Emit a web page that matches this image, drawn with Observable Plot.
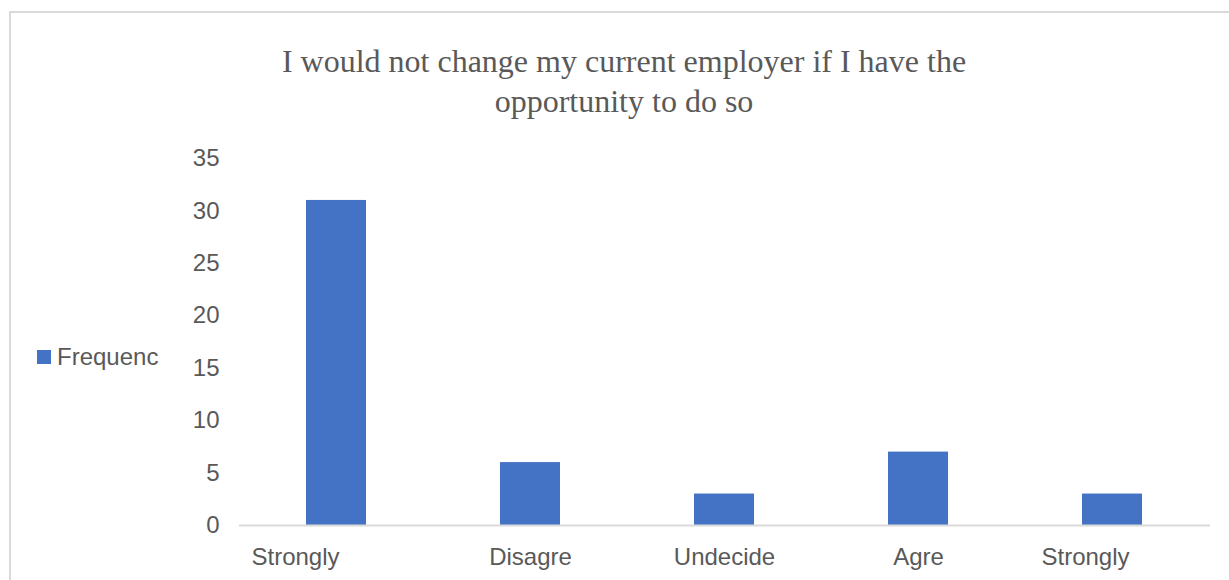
<!DOCTYPE html>
<html>
<head>
<meta charset="utf-8">
<script src="https://cdn.jsdelivr.net/npm/d3@7"></script>
<script src="https://cdn.jsdelivr.net/npm/@observablehq/plot@0.6"></script>
<style>
  html, body { margin: 0; padding: 0; background: #fff; overflow: hidden; }
  #frame { position: absolute; left: 9px; top: 11px; width: 1300px; height: 700px; border: 2px solid #d9d9d9; box-sizing: border-box; }
  #title { position: absolute; left: 224px; width: 800px; top: 41px; text-align: center;
           font-family: "Liberation Serif", "Times New Roman", serif; font-size: 32px; line-height: 40px; color: #595959; }
  #legend { position: absolute; left: 37px; top: 343px; font-family: "Liberation Sans", Arial, sans-serif; font-size: 24px; color: #595959; display: flex; align-items: center; }
  #legend .sw { width: 14px; height: 14px; background: #4472C4; margin-right: 6px; }
  #chart { position: absolute; left: 0; top: 130px; }
</style>
</head>
<body>
<div id="frame"></div>
<div id="title">I would not change my current employer if I have the<br>opportunity to do so</div>
<div id="legend"><div class="sw"></div><span>Frequenc</span></div>
<div id="chart"></div>
<script>
const categories = ["Strongly disagree", "Disagree", "Undecided", "Agree", "Strongly agree"];
const tickLabels = ["Strongly", "Disagre", "Undecide", "Agre", "Strongly"];
const frequency = [31, 6, 3, 7, 3];
const yTicks = [0, 5, 10, 15, 20, 25, 30, 35];

const data = categories.map((c, i) => ({category: c, value: frequency[i]}));
const labelOf = new Map(categories.map((c, i) => [c, tickLabels[i]]));
const otherCats = categories.filter(c => !c.startsWith("Strongly"));

const axisStyle = {tickSize: 0, tickPadding: 22, fontSize: 24, fill: "#595959", label: null, tickFormat: d => labelOf.get(d)};

const plot = Plot.plot({
  width: 1229,
  height: 450,
  marginLeft: 239,
  marginRight: 19,
  marginTop: 28,
  marginBottom: 55,
  style: {fontFamily: "'Liberation Sans', Arial, sans-serif", fontSize: "24px", color: "#595959", background: "transparent"},
  x: {domain: categories, paddingInner: 0.69, paddingOuter: 0.345, axis: null},
  y: {domain: [0, 35], axis: null},
  marks: [
    Plot.axisY(yTicks, {tickSize: 0, tickPadding: 20, fontSize: 24, fill: "#595959", label: null}),
    Plot.barY(data, {x: "category", y: "value", fill: "#4472C4"}),
    Plot.ruleY([0], {stroke: "#d9d9d9", strokeWidth: 2}),
    Plot.axisX(otherCats, axisStyle),
    Plot.axisX([categories[0]], {...axisStyle, dx: -41}),
    Plot.axisX([categories[4]], {...axisStyle, dx: -27})
  ]
});
document.getElementById("chart").appendChild(plot);
</script>
</body>
</html>
